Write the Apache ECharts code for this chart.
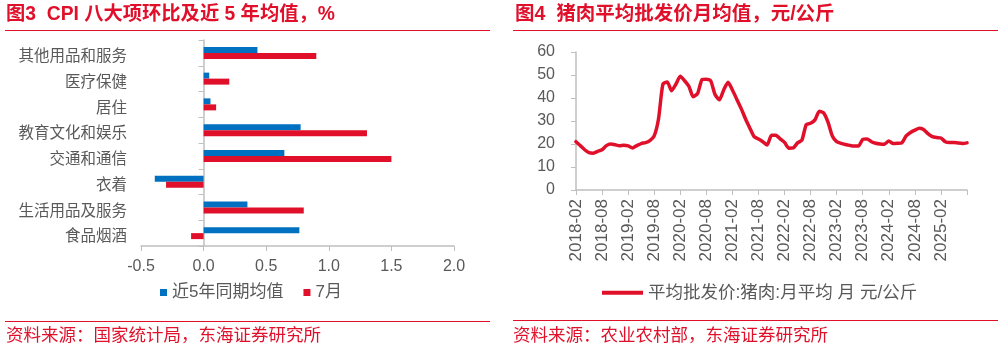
<!DOCTYPE html>
<html>
<head>
<meta charset="UTF-8">
<title></title>
<script src="https://cdn.jsdelivr.net/npm/echarts@6/dist/echarts.min.js"></script>
<style>
html, body { margin: 0; padding: 0; background: #fff; }
</style>
</head>
<body>
<div id="main" style="width: 1002px; height: 351px;"></div>
<script type="text/javascript">
// 图3 CPI 八大项
var cpiItems = ['其他用品和服务', '医疗保健', '居住', '教育文化和娱乐', '交通和通信', '衣着', '生活用品及服务', '食品烟酒'];
var avg5y = [0.43, 0.045, 0.055, 0.775, 0.645, -0.39, 0.35, 0.765];
var july = [0.90, 0.205, 0.10, 1.305, 1.50, -0.30, 0.80, -0.10];
var cpiTicks = [-0.5, 0.0, 0.5, 1.0, 1.5, 2.0];

// 图4 猪肉平均批发价 2018-02 ~ 2025-08
var months = [];
for (var y = 2018; y <= 2025; y++) {
	for (var m = 1; m <= 12; m++) {
		if ((y === 2018 && m < 2) || (y === 2025 && m > 8)) continue;
		months.push(y + '-' + (m < 10 ? '0' + m : m));
	}
}
var porkPrice = [
	21, 19.3, 17.5, 16.2, 16, 16.8, 17.5, 19.3, 20, 19.7, 19.2, 19.5,
	19.2, 18.3, 19.3, 20.2, 20.6, 21.5, 23.5, 31, 46, 47, 43.2, 46,
	49.5, 47.5, 45, 40.5, 42, 48, 48.2, 47.5, 41.5, 39.2, 43.5, 46.8,
	43.5, 39.5, 35.5, 31, 27, 23.2, 22.2, 21, 19.6, 23.8, 23.8, 22.2,
	20.7, 18.2, 18.3, 20.5, 21.7, 28.5, 29, 30.5, 34.2, 33.5, 29.5, 23.5,
	21, 20.3, 19.8, 19.4, 19.1, 19.1, 22, 22.2, 21, 20.3, 20, 19.9,
	21.3, 20.2, 20.3, 20.5, 23.5, 25, 26, 26.8, 26.3, 24.5, 23.2, 22.8,
	22.6, 21, 20.7, 20.7, 20.4, 20.2, 20.5
];

var RED = '#E0102B';
var BLUE = '#0070C0';
var GREY_TXT = '#595959';
var AXIS = '#BFBFBF';
var FONT = '"Liberation Sans", Arial, "Noto Sans CJK SC", sans-serif';

var chart = echarts.init(document.getElementById('main'));

var option = {
	animation: false,
	textStyle: { fontFamily: FONT },
	title: [
		{ text: '图3  CPI 八大项环比及近 5 年均值，%', left: 6, top: 5, padding: 0,
			textStyle: { color: RED, fontSize: 19.3, fontWeight: 'bold', fontFamily: FONT } },
		{ text: '图4  猪肉平均批发价月均值，元/公斤', left: 515, top: 5, padding: 0,
			textStyle: { color: RED, fontSize: 19.5, fontWeight: 'bold', fontFamily: FONT } },
		{ text: '资料来源：国家统计局，东海证券研究所', left: 6, top: 327, padding: 0,
			textStyle: { color: RED, fontSize: 17.5, fontWeight: 'normal', fontFamily: FONT } },
		{ text: '资料来源：农业农村部，东海证券研究所', left: 513, top: 327, padding: 0,
			textStyle: { color: RED, fontSize: 17.5, fontWeight: 'normal', fontFamily: FONT } }
	],
	graphic: [
		{ type: 'line', shape: { x1: 5, y1: 30.5, x2: 490, y2: 30.5 }, style: { stroke: RED, lineWidth: 1 } },
		{ type: 'line', shape: { x1: 513, y1: 30.5, x2: 998, y2: 30.5 }, style: { stroke: RED, lineWidth: 1 } },
		{ type: 'line', shape: { x1: 5, y1: 321.5, x2: 490, y2: 321.5 }, style: { stroke: RED, lineWidth: 1 } },
		{ type: 'line', shape: { x1: 513, y1: 320.5, x2: 998, y2: 320.5 }, style: { stroke: RED, lineWidth: 1 } }
	],
	legend: [
		{
			left: 160, top: 284, padding: 0,
			icon: 'rect', itemWidth: 7, itemHeight: 7, itemGap: 20,
			data: ['近5年同期均值', '7月'],
			textStyle: { color: GREY_TXT, fontSize: 17, fontFamily: FONT }
		},
		{
			left: 602, top: 284, padding: 0,
			icon: 'rect', itemWidth: 41, itemHeight: 4,
			data: ['平均批发价:猪肉:月平均 月 元/公斤'],
			textStyle: { color: GREY_TXT, fontSize: 17.5, fontFamily: FONT }
		}
	],
	grid: [
		{ left: 141, right: 548, top: 40, bottom: 105 },
		{ left: 576, right: 35, top: 52, bottom: 161 },
		// 类目标签用的网格，略向下偏移
		{ left: 141, right: 548, top: 44, bottom: 101 }
	],
	xAxis: [
		{
			type: 'value', gridIndex: 0,
			min: cpiTicks[0], max: cpiTicks[cpiTicks.length - 1], interval: 0.5,
			splitLine: { show: false },
			axisLine: { show: true, lineStyle: { color: AXIS, width: 1.5 } },
			axisTick: { show: true, length: 5, lineStyle: { color: AXIS } },
			axisLabel: { color: GREY_TXT, fontSize: 16, margin: 13,
				formatter: function (v) { return v.toFixed(1); } }
		},
		{
			type: 'category', gridIndex: 1, data: months, boundaryGap: false,
			axisLine: { show: true, lineStyle: { color: AXIS, width: 1.5 } },
			axisTick: { show: true, length: 5, lineStyle: { color: AXIS },
				interval: function (i) { return i % 6 === 0; } },
			axisLabel: { color: GREY_TXT, fontSize: 17, rotate: 90, margin: 9,
				interval: function (i) { return i % 6 === 0 && i < 90; } }
		},
		{
			type: 'value', gridIndex: 2, show: false,
			min: cpiTicks[0], max: cpiTicks[cpiTicks.length - 1]
		}
	],
	yAxis: [
		{
			type: 'category', gridIndex: 0, data: cpiItems, inverse: true,
			axisLine: { show: true, onZero: true, lineStyle: { color: AXIS, width: 1.5 } },
			axisTick: { show: true, length: 5, lineStyle: { color: AXIS } },
			axisLabel: { show: false }
		},
		{
			type: 'category', gridIndex: 2, data: cpiItems, inverse: true, position: 'left',
			axisLine: { show: false, onZero: false },
			axisTick: { show: false },
			axisLabel: { color: GREY_TXT, fontSize: 15.5, margin: 14, interval: 0 }
		},
		{
			type: 'value', gridIndex: 1, min: 0, max: 60, interval: 10,
			splitLine: { show: false },
			axisLine: { show: true, lineStyle: { color: AXIS, width: 1.5 } },
			axisTick: { show: true, length: 5, lineStyle: { color: AXIS } },
			axisLabel: { color: GREY_TXT, fontSize: 16, margin: 21 }
		}
	],
	series: [
		{
			name: '近5年同期均值', type: 'bar', xAxisIndex: 0, yAxisIndex: 0,
			data: avg5y, barWidth: 6, barGap: '0%',
			itemStyle: { color: BLUE }
		},
		{
			name: '7月', type: 'bar', xAxisIndex: 0, yAxisIndex: 0,
			data: july, barWidth: 6, barGap: '0%',
			itemStyle: { color: RED }
		},
		{
			name: '平均批发价:猪肉:月平均 月 元/公斤', type: 'line', xAxisIndex: 1, yAxisIndex: 2,
			data: porkPrice, symbol: 'none', smooth: 0.2,
			lineStyle: { color: RED, width: 3.5, cap: 'round', join: 'round' },
			itemStyle: { color: RED }
		}
	]
};

chart.setOption(option);
</script>
</body>
</html>
